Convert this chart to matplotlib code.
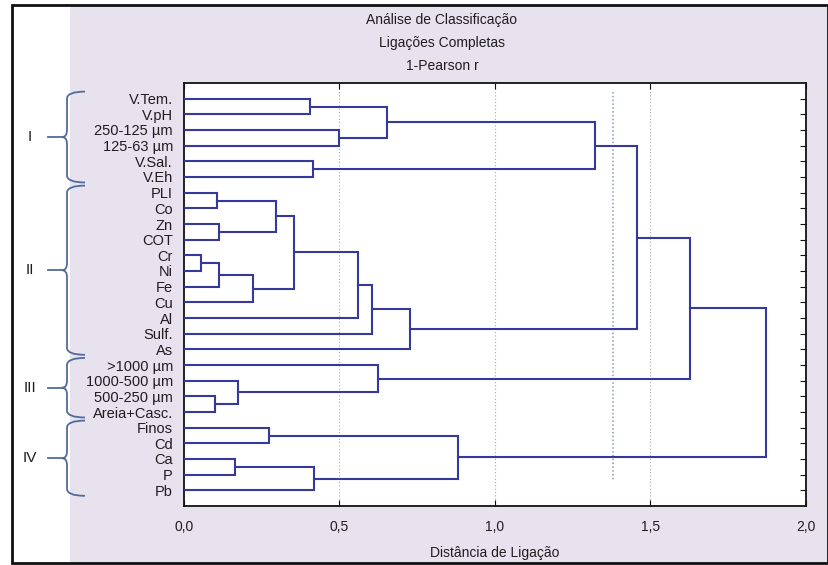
import matplotlib
matplotlib.use("Agg")
import matplotlib.pyplot as plt
from matplotlib.path import Path
from matplotlib.patches import PathPatch, Rectangle
from matplotlib.transforms import blended_transform_factory

plt.rcParams['font.family'] = ['Liberation Sans', 'DejaVu Sans']

# leaf order, top to bottom
labels = ["V.Tem.", "V.pH", "250-125 µm", "125-63 µm", "V.Sal.", "V.Eh",
          "PLI", "Co", "Zn", "COT", "Cr", "Ni", "Fe", "Cu", "Al", "Sulf.", "As",
          ">1000 µm", "1000-500 µm", "500-250 µm", "Areia+Casc.",
          "Finos", "Cd", "Ca", "P", "Pb"]

# merges: (child a, child b, linkage distance); ints refer to earlier merges
merges = [
    ("V.Tem.", "V.pH", 0.405),          # 0
    ("250-125 µm", "125-63 µm", 0.498),  # 1
    (0, 1, 0.652),                       # 2
    ("V.Sal.", "V.Eh", 0.414),           # 3
    (2, 3, 1.322),                       # 4
    ("PLI", "Co", 0.105),                # 5
    ("Zn", "COT", 0.113),                # 6
    (5, 6, 0.296),                       # 7
    ("Cr", "Ni", 0.055),                 # 8
    (8, "Fe", 0.113),                    # 9
    (9, "Cu", 0.223),                    # 10
    (7, 10, 0.355),                      # 11
    (11, "Al", 0.558),                   # 12
    (12, "Sulf.", 0.606),                # 13
    (13, "As", 0.727),                   # 14
    (4, 14, 1.456),                      # 15
    ("500-250 µm", "Areia+Casc.", 0.099),  # 16
    ("1000-500 µm", 16, 0.173),          # 17
    (">1000 µm", 17, 0.623),             # 18
    (15, 18, 1.627),                     # 19
    ("Finos", "Cd", 0.274),              # 20
    ("Ca", "P", 0.163),                  # 21
    (21, "Pb", 0.419),                   # 22
    (20, 22, 0.882),                     # 23
    (19, 23, 1.870),                     # 24
]

groups = ["I", "II", "III", "IV"]
group_first = ["V.Tem.", "PLI", ">1000 µm", "Finos"]
group_last = ["V.Eh", "As", "Areia+Casc.", "Pb"]

cut_distance = 1.38
xticks = [0.0, 0.5, 1.0, 1.5, 2.0]

LINE = "#34399a"
TXT = "#1e1e1e"
LAV = "#e8e2ef"
BRACE = "#4f6c9c"

W, H = 829, 565
fig = plt.figure(figsize=(W / 100, H / 100), dpi=100)
fig.patch.set_facecolor("white")

# overlay in pixel coords for background, border and braces
bg = fig.add_axes([0, 0, 1, 1], zorder=0)
bg.set_xlim(0, W)
bg.set_ylim(H, 0)
bg.axis("off")
bg.add_patch(Rectangle((70, 5), 758, 558, facecolor=LAV, edgecolor="none"))
bg.add_patch(Rectangle((12, 5), 816, 558, facecolor="none", edgecolor="#111111", lw=2))

ax = fig.add_axes([184 / W, 1 - 506 / H, 622 / W, 423 / H], zorder=1)
ax.set_facecolor("white")

pos = {lab: (i + 1, 0.0) for i, lab in enumerate(labels)}
nodes = []
for a, b, h in merges:
    ya, ha = pos[a] if isinstance(a, str) else nodes[a]
    yb, hb = pos[b] if isinstance(b, str) else nodes[b]
    ax.plot([ha, h, h, hb], [ya, ya, yb, yb], color=LINE, lw=1.5,
            solid_joinstyle="miter", zorder=3)
    nodes.append(((ya + yb) / 2, h))

for xv in xticks[1:-1]:
    ax.axvline(xv, color="#a8a8a8", lw=0.8, ls=(0, (1, 2)), zorder=1)
ax.vlines(cut_distance, 0.55, 25.4, color="#7f9ad0", lw=1.1, ls=(0, (1, 1.5)), zorder=2)

ax.set_xlim(0, 2.0)
ax.set_ylim(27, 0)
ax.set_xticks(xticks)
ax.set_xticklabels([f"{v:.1f}".replace(".", ",") for v in xticks], fontsize=10, color=TXT)
ax.set_yticks(range(1, len(labels) + 1))
ax.set_yticklabels(labels, fontsize=10.5, color=TXT)
ax.tick_params(axis="x", direction="in", length=4, top=True, pad=10, color="#111111")
ax.tick_params(axis="y", direction="in", length=4, right=True, pad=8, color="#111111")
for t in ax.yaxis.get_major_ticks():
    t.tick1line.set_visible(False)
for s in ax.spines.values():
    s.set_color("#111111")
    s.set_linewidth(1.3)
ax.set_xlabel("Distância de Ligação", fontsize=10, color=TXT, labelpad=9)

for i, line in enumerate(["Análise de Classificação", "Ligações Completas", "1-Pearson r"]):
    fig.text(442 / W, 1 - (20 + 23 * i) / H, line, ha="center", va="center",
             fontsize=10, color=TXT)

# group braces on the left
tr = blended_transform_factory(bg.transData, ax.transData)
xr, xb, xm, xd = 85, 67, 62, 48
r = 0.45
for g, f, l in zip(groups, group_first, group_last):
    y0 = labels.index(f) + 1 - 0.45
    y1 = labels.index(l) + 1 + 0.35
    ym = (y0 + y1) / 2
    verts = [(xr, y0), (xb, y0), (xb, y0 + r), (xb, ym - r), (xb, ym), (xm, ym),
             (xb, ym), (xb, ym + r), (xb, y1 - r), (xb, y1), (xr, y1)]
    codes = [Path.MOVETO, Path.CURVE3, Path.CURVE3, Path.LINETO, Path.CURVE3, Path.CURVE3,
             Path.CURVE3, Path.CURVE3, Path.LINETO, Path.CURVE3, Path.CURVE3]
    bg.add_patch(PathPatch(Path(verts, codes), transform=tr, facecolor="none",
                           edgecolor=BRACE, lw=1.3, clip_on=False))
    bg.plot([xd, xm], [ym, ym], transform=tr, color=BRACE, lw=1.3, clip_on=False)
    bg.text(30, ym, g, transform=tr, ha="center", va="center", fontsize=11, color=TXT)

fig.savefig("out.png", dpi=100)
